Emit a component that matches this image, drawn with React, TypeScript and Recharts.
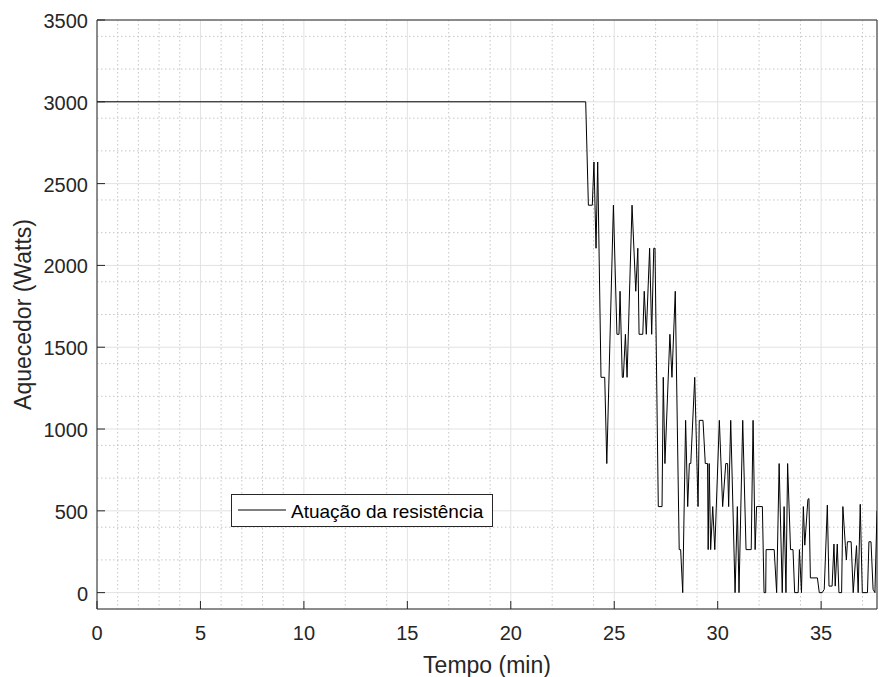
import {
  LineChart,
  Line,
  XAxis,
  YAxis,
  CartesianGrid,
  Legend,
  ReferenceLine,
} from "recharts";

// tempo (min) and heater power (W)
const tempo = [
  0, 23.62, 23.75, 23.94, 24.02, 24.12, 24.2, 24.36, 24.54, 24.64, 24.96,
  25.13, 25.23, 25.28, 25.39, 25.44, 25.54, 25.62, 25.86, 26.04, 26.14, 26.2,
  26.38, 26.45, 26.55, 26.71, 26.81, 26.91, 26.97, 27.13, 27.31, 27.37, 27.45,
  27.69, 27.79, 27.95, 28.14, 28.21, 28.31, 28.45, 28.55, 28.63, 28.7, 28.89,
  29.05, 29.11, 29.29, 29.4, 29.51, 29.54, 29.59, 29.66, 29.76, 29.86, 30.08,
  30.24, 30.39, 30.48, 30.53, 30.63, 30.84, 30.95, 31.03, 31.21, 31.37, 31.62,
  31.71, 31.81, 31.88, 32.16, 32.24, 32.32, 32.34, 32.73, 32.85, 32.97, 33.12,
  33.21, 33.3, 33.38, 33.52, 33.64, 33.72, 33.89, 33.95, 34.05, 34.14, 34.21,
  34.36, 34.41, 34.48, 34.82, 34.91, 35.05, 35.15, 35.3, 35.38, 35.53, 35.62,
  35.68, 35.78, 35.86, 35.99, 36.05, 36.17, 36.22, 36.27, 36.45, 36.55, 36.71,
  36.79, 36.89, 36.99, 37.24, 37.31, 37.41, 37.51, 37.6, 37.7,
];

const potencia = [
  3000, 3000, 2368, 2368, 2632, 2105, 2632, 1316, 1316, 789, 2368,
  1579, 1579, 1842, 1316, 1316, 1579, 1316, 2368, 1842, 2105, 1579,
  1579, 1842, 1579, 2105, 1579, 2105, 2105, 526, 526, 1316, 789,
  1579, 1316, 1842, 263, 263, 0, 1053, 526, 789, 789, 1316,
  526, 1053, 1053, 789, 789, 263, 789, 263, 526, 263, 1053,
  526, 789, 789, 526, 1053, 0, 526, 0, 1053, 263, 263,
  1053, 263, 526, 526, 0, 0, 263, 263, 0, 789, 0,
  526, 0, 789, 263, 263, 0, 0, 263, 0, 526, 290,
  570, 575, 90, 90, 0, 0, 20, 535, 40, 40, 297,
  40, 297, 0, 0, 526, 287, 200, 311, 311, 0, 287,
  0, 540, 0, 0, 311, 311, 20, 0, 500,
];

const xTicks = [0, 5, 10, 15, 20, 25, 30, 35];
const yTicks = [0, 500, 1000, 1500, 2000, 2500, 3000, 3500];
const xMinor = [
  1, 2, 3, 4, 6, 7, 8, 9, 11, 12, 13, 14, 16, 17, 18, 19, 21, 22, 23, 24, 26,
  27, 28, 29, 31, 32, 33, 34, 36, 37,
];
const yMinor = [
  100, 200, 300, 400, 600, 700, 800, 900, 1100, 1200, 1300, 1400, 1600, 1700,
  1800, 1900, 2100, 2200, 2300, 2400, 2600, 2700, 2800, 2900, 3100, 3200, 3300,
  3400,
];

const FONT = "'Liberation Sans', Arial, Helvetica, sans-serif";
const INK = "#262626";

const data = tempo.map((t, i) => ({ t, p: potencia[i] }));

const XTick = ({ x, y, payload }: any) => (
  <g>
    <line x1={x} x2={x} y1={y} y2={y - 8} stroke={INK} />
    <text x={x} y={y + 30.5} textAnchor="middle" fill={INK} fontSize={20} fontFamily={FONT}>
      {payload.value}
    </text>
  </g>
);

const YTick = ({ x, y, payload }: any) => (
  <g>
    <line x1={x} x2={x + 8} y1={y} y2={y} stroke={INK} />
    <text x={x - 9} y={y + 8} textAnchor="end" fill={INK} fontSize={20} fontFamily={FONT}>
      {payload.value}
    </text>
  </g>
);

const renderLegend = () => (
  <svg width={262} height={33} style={{ display: "block" }}>
    <rect x={0.5} y={0.5} width={261} height={32} fill="#fff" stroke={INK} />
    <line x1={7} x2={55} y1={16} y2={16} stroke="#000" />
    <text x={60} y={23.5} fill="#000" fontSize={19} fontFamily={FONT}>
      Atuação da resistência
    </text>
  </svg>
);

export default function App() {
  return (
    <div style={{ position: "absolute", left: 0, top: 0, background: "#fff" }}>
      <LineChart
        width={879}
        height={677}
        data={data}
        margin={{ top: 20, right: 2, left: 0, bottom: 0 }}
      >
        <CartesianGrid
          horizontalValues={yMinor}
          verticalValues={xMinor}
          stroke="#c6c6c6"
          strokeDasharray="1.5 2.5"
        />
        <CartesianGrid stroke="#e2e2e2" />
        <XAxis
          dataKey="t"
          type="number"
          domain={[0, 37.7]}
          ticks={xTicks}
          allowDataOverflow
          height={68}
          tickSize={0}
          tickMargin={0}
          tick={<XTick />}
          axisLine={{ stroke: INK }}
          label={{
            value: "Tempo (min)",
            position: "insideBottom",
            offset: 4.5,
            fill: INK,
            fontSize: 23,
            fontFamily: FONT,
          }}
        />
        <YAxis
          type="number"
          domain={[-100, 3500]}
          ticks={yTicks}
          allowDataOverflow
          width={97}
          tickSize={0}
          tickMargin={0}
          tick={<YTick />}
          axisLine={{ stroke: INK }}
          label={{
            value: "Aquecedor (Watts)",
            angle: -90,
            position: "insideLeft",
            offset: 23,
            fill: INK,
            fontSize: 23,
            fontFamily: FONT,
            style: { textAnchor: "middle" },
          }}
        />
        <ReferenceLine y={3500} stroke={INK} />
        <ReferenceLine x={37.7} stroke={INK} />
        <Line
          type="linear"
          dataKey="p"
          stroke="#000"
          strokeWidth={1}
          dot={false}
          isAnimationActive={false}
        />
        <Legend
          layout="horizontal"
          verticalAlign="middle"
          align="center"
          content={renderLegend}
          wrapperStyle={{ left: 231, top: 494, width: 262, height: 33 }}
        />
      </LineChart>
    </div>
  );
}
